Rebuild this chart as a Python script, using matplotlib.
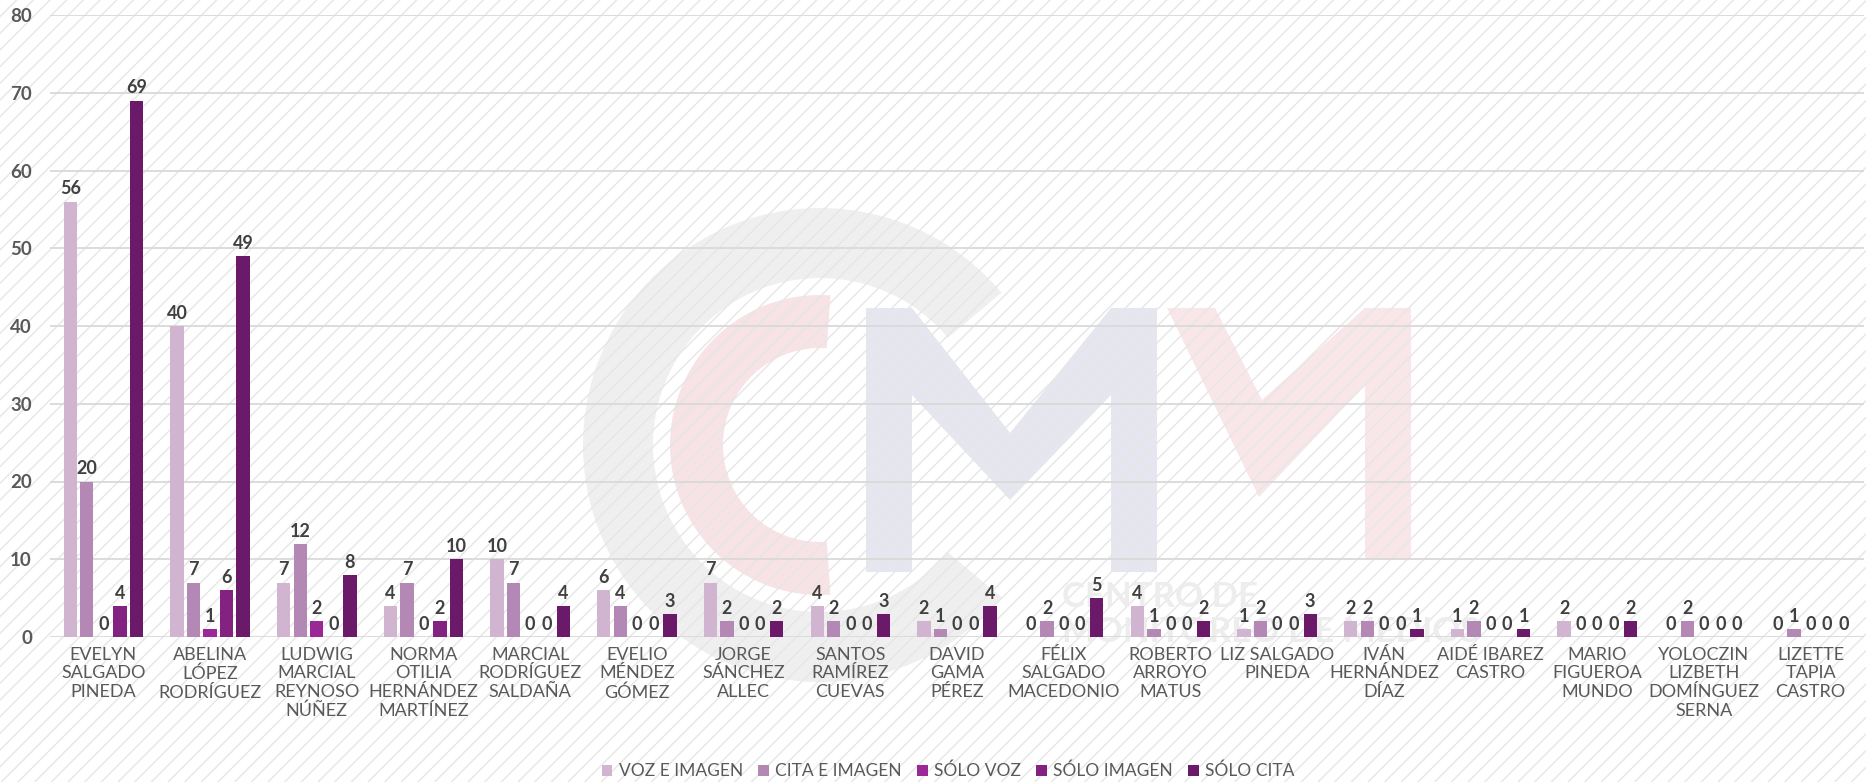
import matplotlib.pyplot as plt
from matplotlib.patches import Rectangle, Wedge, Polygon
import numpy as np

# menciones por actor
actores = [
    "EVELYN\nSALGADO\nPINEDA",
    "ABELINA\nLÓPEZ\nRODRÍGUEZ",
    "LUDWIG\nMARCIAL\nREYNOSO\nNÚÑEZ",
    "NORMA\nOTILIA\nHERNÁNDEZ\nMARTÍNEZ",
    "MARCIAL\nRODRÍGUEZ\nSALDAÑA",
    "EVELIO\nMÉNDEZ\nGÓMEZ",
    "JORGE\nSÁNCHEZ\nALLEC",
    "SANTOS\nRAMÍREZ\nCUEVAS",
    "DAVID\nGAMA\nPÉREZ",
    "FÉLIX\nSALGADO\nMACEDONIO",
    "ROBERTO\nARROYO\nMATUS",
    "LIZ SALGADO\nPINEDA",
    "IVÁN\nHERNÁNDEZ\nDÍAZ",
    "AIDÉ IBAREZ\nCASTRO",
    "MARIO\nFIGUEROA\nMUNDO",
    "YOLOCZIN\nLIZBETH\nDOMÍNGUEZ\nSERNA",
    "LIZETTE\nTAPIA\nCASTRO",
]

voz_imagen = [56, 40, 7, 4, 10, 6, 7, 4, 2, 0, 4, 1, 2, 1, 2, 0, 0]
cita_imagen = [20, 7, 12, 7, 7, 4, 2, 2, 1, 2, 1, 2, 2, 2, 0, 2, 1]
solo_voz = [0, 1, 2, 0, 0, 0, 0, 0, 0, 0, 0, 0, 0, 0, 0, 0, 0]
solo_imagen = [4, 6, 0, 2, 0, 0, 0, 0, 0, 0, 0, 0, 0, 0, 0, 0, 0]
solo_cita = [69, 49, 8, 10, 4, 3, 2, 3, 4, 5, 2, 3, 1, 1, 2, 0, 0]

series = ["VOZ E IMAGEN", "CITA E IMAGEN", "SÓLO VOZ", "SÓLO IMAGEN", "SÓLO CITA"]
colores = ["#D1B4CF", "#B388B4", "#9A2896", "#842282", "#6B1A69"]

W, H = 1866, 782
fig = plt.figure(figsize=(W / 100, H / 100), dpi=100)

# fondo blanco
fig.patches.append(Rectangle((0, 0), 1, 1, transform=fig.transFigure,
                             facecolor="white", edgecolor="none", zorder=-10))

# marca de agua (coordenadas en pixeles, origen abajo-izquierda)
bg = fig.add_axes([0, 0, 1, 1], zorder=-5)
bg.set_xlim(0, W)
bg.set_ylim(0, H)
bg.axis("off")
cx, cy = 820, H - 445
bg.add_patch(Wedge((cx, cy), 237, 40, 320, width=70, color="#EFEFEF", lw=0))
bg.add_patch(Wedge((cx, cy), 150, 86, 274, width=53, color="#F7E3E5", lw=0))


def px(pts):
    return [(x, H - y) for x, y in pts]


bg.add_patch(Polygon(px([(866, 572), (866, 308), (912, 308), (1010, 433),
                         (1111, 308), (1157, 308), (1157, 572), (1111, 572),
                         (1111, 395), (1010, 500), (912, 395), (912, 572)]),
                     color="#E5E6EF", lw=0))
bg.add_patch(Polygon(px([(1167, 308), (1215, 308), (1262, 400), (1365, 308),
                         (1411, 308), (1411, 560), (1365, 560), (1365, 385),
                         (1259, 497)]),
                     color="#F8E6E8", lw=0))
bg.text(1062, H - 597, "CENTRO DE", fontsize=25, fontweight="bold",
        color="#EDEDED", family="Lato", va="center")
bg.text(1062, H - 632, "MONITOREO DE MEDIOS", fontsize=25, fontweight="bold",
        color="#EDEDED", family="Lato", va="center")
# rayado diagonal encima de todo el fondo
bg.add_patch(Rectangle((0, 0), W, H, facecolor="none", edgecolor="#E6E6E6",
                       hatch="//", lw=0))

ax = fig.add_axes([50 / W, 1 - 637 / H, 1814 / W, 622 / H])
ax.patch.set_alpha(0)

x = np.arange(len(actores))
ancho = 0.125
paso = 0.155
datos = [voz_imagen, cita_imagen, solo_voz, solo_imagen, solo_cita]

for i, (vals, nombre, color) in enumerate(zip(datos, series, colores)):
    pos = x + (i - 2) * paso
    barras = ax.bar(pos, vals, ancho, color=color, label=nombre, zorder=3)
    ax.bar_label(barras, labels=[str(v) for v in vals], padding=3,
                 fontsize=13, fontweight="bold", color="#404040",
                 family="Lato")

ax.set_xlim(-0.5, len(actores) - 0.5)
ax.set_ylim(0, 80)
ax.set_yticks(range(0, 81, 10))
ax.grid(axis="y", color="#D9D9D9", linewidth=1.3, zorder=0)
ax.tick_params(length=0)
ax.tick_params(axis="y", pad=13, labelsize=13.5, labelcolor="#595959")
ax.tick_params(axis="x", pad=7, labelsize=13, labelcolor="#595959")
for lab in ax.get_yticklabels():
    lab.set_fontweight("bold")
    lab.set_family("Lato")
ax.set_xticks(x)
ax.set_xticklabels(actores, family="Lato", linespacing=1.2)
for s in ax.spines.values():
    s.set_visible(False)

fig.legend(loc="center", bbox_to_anchor=(948 / W, 1 - 771 / H), ncol=5,
           frameon=False, handlelength=0.6, handleheight=0.6,
           handletextpad=0.35, columnspacing=0.9,
           prop={"family": "Lato", "size": 12.5}, labelcolor="#595959")

fig.savefig("out.png", dpi=100)
